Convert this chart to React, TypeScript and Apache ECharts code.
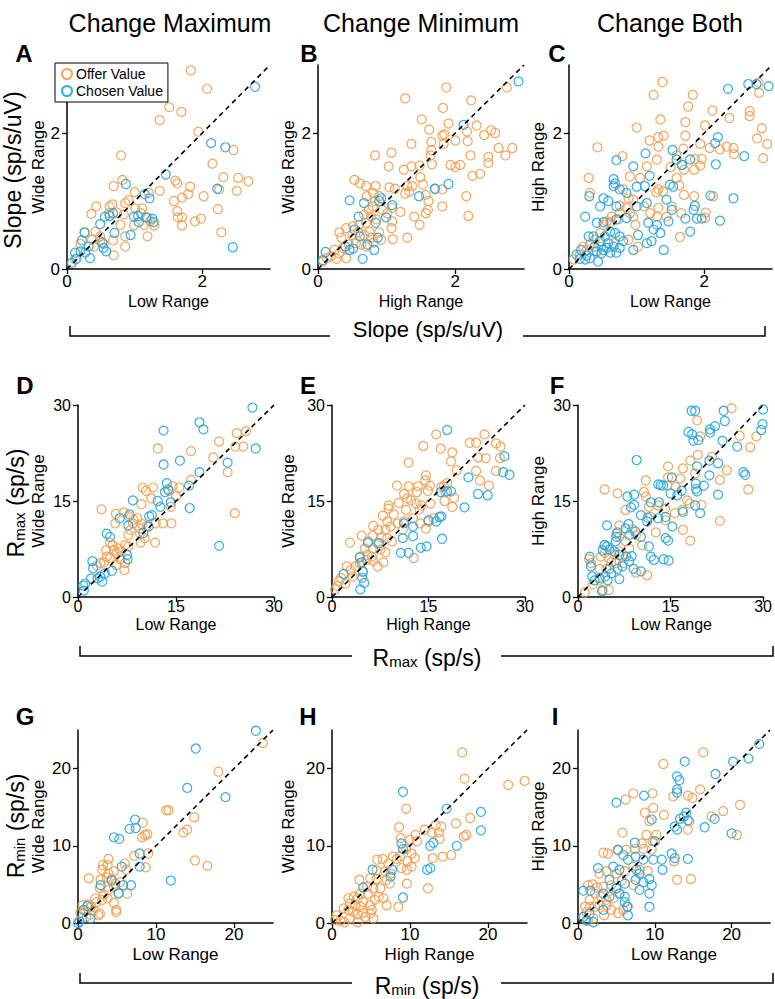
import React, { useEffect, useRef } from 'react';
import * as echarts from 'echarts';

const ORANGE = '#F39C4B';
const BLUE = '#1EA5E3';
const FONT = '"Liberation Sans", Arial, Helvetica, sans-serif';

const titles = ['Change Maximum', 'Change Minimum', 'Change Both'];
const letters = ['A', 'B', 'C', 'D', 'E', 'F', 'G', 'H', 'I'];

// ---- Slope (sp/s/uV) ----
const aOffer = [[1.83,2.92],[2.07,2.65],[1.51,2.38],[1.69,2.31],[1.37,2.19],[1.94,2.02],[2.46,1.75],[0.80,1.67],[2.15,1.55],[1.60,1.30],[1.63,1.26],[0.82,1.31],[2.31,1.35],[2.53,1.34],[2.68,1.29],[1.82,1.21],[0.69,1.22],[1.00,1.13],[1.21,1.12],[1.37,1.15],[2.51,1.15],[2.25,1.17],[2.02,1.07],[1.79,1.10],[1.70,1.05],[1.58,1.00],[0.91,1.01],[0.43,0.92],[0.63,0.92],[0.67,0.95],[0.86,0.97],[1.01,0.89],[1.11,0.89],[2.23,0.88],[0.36,0.81],[0.62,0.82],[0.74,0.83],[0.84,0.80],[1.09,0.82],[1.63,0.85],[1.64,0.76],[1.70,0.76],[1.98,0.74],[1.89,0.70],[1.70,0.64],[1.19,0.75],[0.99,0.64],[1.14,0.65],[1.29,0.64],[1.23,0.70],[0.42,0.55],[0.79,0.65],[0.26,0.53],[0.49,0.48],[0.86,0.48],[1.19,0.48],[2.28,0.54],[0.20,0.37],[0.40,0.33],[0.54,0.37],[0.68,0.42],[0.86,0.33],[0.69,0.20],[0.12,0.14],[0.49,0.41],[0.37,0.43]];
const aChosen = [[2.78,2.68],[2.13,1.85],[2.34,1.79],[1.46,1.39],[0.87,1.25],[2.22,1.18],[1.15,1.10],[1.22,1.04],[0.68,0.82],[0.63,0.78],[0.56,0.77],[0.99,0.77],[1.05,0.78],[1.17,0.76],[1.26,0.74],[1.06,0.69],[1.28,0.69],[0.49,0.66],[0.70,0.53],[0.26,0.54],[0.94,0.50],[0.22,0.42],[0.52,0.39],[0.32,0.33],[0.54,0.31],[0.58,0.26],[0.20,0.26],[0.12,0.24],[0.34,0.16],[0.14,0.15],[0.07,0.09],[2.45,0.32],[0.27,0.24]];

const bOffer = [[1.87,2.67],[1.27,2.51],[2.23,2.48],[2.75,2.67],[1.82,2.37],[1.51,2.20],[2.31,2.11],[1.90,2.14],[1.62,2.05],[2.17,2.02],[2.52,2.04],[2.58,2.00],[1.81,1.96],[1.84,1.98],[2.00,1.89],[2.18,1.88],[2.42,1.97],[1.65,1.87],[1.36,1.84],[1.83,1.84],[2.63,1.78],[2.83,1.78],[1.65,1.75],[2.22,1.67],[2.48,1.65],[2.73,1.67],[1.07,1.71],[0.83,1.67],[1.64,1.67],[2.48,1.56],[1.93,1.53],[2.07,1.53],[2.00,1.50],[1.03,1.51],[1.36,1.51],[1.48,1.52],[1.66,1.54],[1.25,1.46],[2.25,1.37],[2.36,1.40],[1.49,1.35],[0.53,1.31],[0.61,1.26],[0.70,1.22],[0.84,1.22],[1.04,1.20],[1.12,1.18],[1.30,1.22],[1.37,1.22],[1.53,1.24],[1.71,1.18],[1.81,1.17],[1.27,1.11],[1.33,1.14],[2.16,1.07],[1.57,1.09],[0.80,1.12],[0.89,1.07],[0.71,1.07],[1.61,1.00],[1.81,0.92],[1.60,0.87],[1.57,0.82],[1.40,0.77],[2.19,0.78],[1.48,0.65],[1.20,0.84],[1.08,0.90],[0.94,0.87],[1.01,0.82],[1.08,0.70],[1.07,0.60],[1.09,0.44],[1.30,0.46],[0.80,0.92],[0.74,0.87],[0.67,0.80],[0.77,0.77],[0.85,0.73],[0.70,0.68],[0.60,0.65],[0.51,0.63],[0.41,0.60],[0.31,0.54],[0.34,0.46],[0.50,0.50],[0.59,0.54],[0.67,0.50],[0.75,0.55],[0.89,0.54],[0.92,0.43],[0.81,0.39],[0.77,0.46],[0.55,0.38],[0.45,0.36],[0.24,0.28],[0.31,0.23],[0.19,0.19],[0.07,0.11],[0.13,0.16],[0.36,0.31],[0.70,0.33],[0.63,0.36],[0.41,0.16],[0.27,0.15],[0.83,1.00]];
const bChosen = [[2.92,2.76],[2.12,2.12],[1.90,1.25],[1.70,1.18],[1.47,1.07],[0.46,1.01],[0.67,0.97],[0.92,1.04],[0.89,1.00],[1.08,0.94],[0.59,0.77],[0.99,0.76],[0.84,0.68],[0.53,0.58],[0.61,0.48],[0.87,0.46],[0.51,0.30],[0.72,0.36],[0.82,0.28],[0.40,0.33],[0.65,0.15],[0.11,0.25],[0.07,0.13],[0.46,0.28]];

const cOffer = [[1.38,2.75],[1.25,2.56],[1.83,2.56],[2.80,2.74],[2.81,2.59],[1.76,2.39],[2.12,2.33],[2.67,2.32],[2.67,2.25],[1.35,2.20],[1.72,2.16],[2.37,2.22],[1.00,2.08],[2.01,2.11],[2.85,2.07],[1.32,1.94],[1.40,1.96],[1.72,1.96],[1.19,1.89],[1.94,1.84],[2.78,1.92],[2.93,1.84],[0.42,1.79],[1.32,1.80],[1.69,1.77],[2.08,1.78],[2.23,1.76],[2.33,1.80],[2.43,1.78],[2.44,1.69],[1.59,1.67],[0.79,1.66],[2.87,1.63],[1.86,1.62],[1.96,1.62],[1.30,1.61],[1.67,1.53],[1.94,1.52],[1.15,1.51],[1.50,1.50],[1.70,1.46],[1.85,1.46],[1.59,1.34],[0.90,1.36],[1.05,1.34],[0.29,1.34],[1.63,1.23],[1.32,1.17],[1.39,1.14],[1.29,1.13],[1.70,1.09],[1.85,1.07],[2.13,1.07],[0.31,1.12],[0.80,1.17],[0.88,1.04],[0.95,1.02],[1.52,0.92],[1.32,0.90],[1.11,0.92],[1.20,0.82],[1.30,0.77],[1.66,0.82],[2.02,0.83],[2.01,0.75],[0.75,0.93],[0.85,0.90],[0.90,0.82],[0.95,0.77],[0.75,0.82],[0.63,0.77],[0.56,0.70],[0.51,0.65],[0.61,0.68],[0.98,0.65],[1.02,0.33],[0.88,0.43],[1.64,0.47],[0.46,0.53],[0.38,0.43],[0.31,0.36],[0.26,0.28],[0.21,0.33],[0.36,0.26],[0.07,0.14],[0.16,0.21],[0.48,0.33],[0.66,0.38],[0.73,0.73],[1.44,0.77]];
const cChosen = [[2.35,2.65],[2.65,2.72],[2.95,2.69],[2.77,2.72],[2.20,1.94],[2.16,1.85],[1.53,1.75],[1.13,1.70],[0.70,1.60],[2.59,1.66],[1.79,1.61],[1.67,1.53],[0.95,1.51],[2.17,1.54],[1.59,1.61],[1.19,1.37],[0.66,1.32],[0.68,1.26],[0.66,1.22],[1.12,1.22],[1.49,1.24],[1.54,1.21],[1.00,1.21],[0.75,1.17],[0.85,1.12],[1.15,0.97],[1.44,1.02],[2.09,1.08],[2.43,1.04],[0.30,1.07],[0.51,1.04],[0.58,1.00],[0.46,0.92],[0.70,0.92],[1.00,0.92],[1.52,0.87],[1.86,0.93],[1.84,0.87],[1.72,0.74],[1.89,0.74],[1.96,0.74],[2.23,0.71],[0.24,0.77],[0.41,0.68],[0.51,0.69],[0.70,0.73],[0.85,0.75],[1.17,0.68],[1.30,0.65],[1.47,0.70],[1.25,0.58],[1.35,0.53],[1.02,0.50],[1.79,0.55],[1.15,0.38],[1.22,0.41],[1.40,0.28],[0.61,0.55],[0.68,0.53],[0.53,0.48],[0.46,0.41],[0.36,0.48],[0.29,0.48],[0.75,0.48],[0.58,0.38],[0.66,0.33],[0.75,0.31],[0.51,0.28],[0.41,0.26],[0.61,0.24],[0.70,0.24],[0.48,0.23],[0.26,0.20],[0.18,0.28],[0.16,0.15],[0.24,0.14],[0.43,0.11],[0.31,0.16],[0.95,0.28],[0.11,0.21],[0.38,0.33],[0.56,0.31],[0.80,0.41]];

// ---- Rmax (sp/s) ----
const dOffer = [[25.7,25.9],[24.3,25.6],[21.6,24.3],[24.1,23.5],[25.3,23.5],[12.2,23.2],[17.3,22.8],[20.7,21.8],[22.9,19.5],[17.3,18.3],[24.0,13.1],[9.9,17.1],[10.4,16.6],[11.5,17.1],[14.5,17.3],[15.5,17.1],[13.9,16.6],[15.0,15.7],[11.2,15.4],[9.7,14.5],[14.2,14.1],[3.6,13.7],[5.8,13.0],[7.0,13.2],[7.8,12.6],[8.5,12.1],[9.1,12.3],[8.4,11.5],[13.0,11.5],[11.9,11.5],[14.3,11.5],[5.7,11.5],[9.8,11.4],[10.5,11.1],[9.5,10.7],[8.0,10.5],[7.7,9.7],[9.5,9.9],[10.2,9.2],[9.6,8.5],[11.8,8.5],[4.9,8.5],[5.3,8.1],[4.3,7.3],[6.2,7.6],[5.5,7.3],[6.6,7.1],[5.9,6.8],[7.7,7.9],[7.2,8.1],[4.4,6.3],[4.9,6.1],[6.5,5.9],[3.4,5.3],[4.0,5.4],[2.9,4.9],[5.9,5.0],[7.1,4.2],[7.2,5.3]];
const dChosen = [[26.7,29.6],[18.6,27.3],[19.2,26.2],[13.1,26.0],[27.2,23.2],[15.6,21.3],[13.1,20.7],[22.9,21.0],[18.6,19.5],[17.0,17.4],[13.6,17.8],[13.3,16.4],[13.8,16.8],[17.1,13.9],[12.2,15.0],[12.6,14.1],[14.2,14.8],[8.4,15.1],[7.9,12.9],[10.9,12.6],[11.3,12.8],[6.4,12.3],[7.7,11.2],[10.8,11.0],[10.0,10.0],[4.4,9.9],[4.9,9.4],[21.6,8.0],[7.5,6.6],[7.6,5.9],[5.2,4.1],[2.2,5.6],[2.3,4.5],[2.0,2.9],[3.0,2.9],[3.7,2.4],[3.4,3.2],[1.1,2.1],[0.8,1.8],[0.9,1.0],[4.1,3.7]];

const eOffer = [[16.2,25.4],[23.7,25.4],[16.9,23.2],[14.2,23.6],[21.4,24.1],[22.4,24.1],[25.5,24.0],[26.2,23.5],[18.7,22.6],[22.7,21.8],[23.9,21.7],[26.1,21.7],[18.5,21.2],[11.9,21.0],[19.4,19.8],[22.4,19.7],[25.5,19.7],[14.6,19.0],[17.9,17.8],[23.0,18.2],[24.4,17.4],[10.1,17.4],[11.9,17.3],[13.4,17.3],[15.2,17.4],[14.5,18.2],[17.0,17.2],[17.4,17.3],[13.2,16.4],[14.9,16.6],[11.2,16.1],[17.6,16.4],[19.0,15.5],[18.7,14.1],[17.5,15.0],[11.7,15.4],[12.3,15.1],[10.4,14.7],[8.8,14.3],[8.8,13.8],[13.1,14.6],[13.9,14.3],[15.3,14.6],[13.6,13.7],[11.5,13.6],[7.9,12.7],[9.6,12.9],[8.6,11.8],[10.2,11.5],[11.2,11.8],[12.6,12.3],[13.7,11.5],[15.0,11.8],[15.8,12.3],[14.6,10.7],[6.4,11.1],[7.2,10.5],[8.3,10.5],[9.1,11.0],[4.6,9.6],[6.3,9.6],[7.7,9.3],[8.6,9.2],[9.3,8.7],[5.6,8.7],[7.1,8.4],[2.8,8.5],[5.1,7.6],[6.4,7.6],[7.5,7.4],[8.3,7.0],[5.5,6.6],[6.2,6.3],[4.4,6.3],[5.4,5.8],[6.4,5.6],[8.0,5.4],[7.1,4.8],[4.3,5.3],[3.7,4.8],[2.3,4.8],[2.9,4.2],[12.7,6.1],[1.1,2.5],[1.4,3.0],[2.1,2.1],[0.5,1.2],[0.8,1.7],[3.2,3.2],[4.8,3.9],[11.0,10.5]];
const eChosen = [[17.9,26.1],[26.8,22.0],[26.6,19.5],[27.6,19.1],[21.2,18.7],[22.7,16.1],[24.2,15.9],[20.6,14.0],[17.9,16.5],[18.5,16.5],[16.9,16.4],[17.0,12.6],[16.7,12.5],[15.0,12.0],[16.2,11.8],[17.1,9.1],[12.6,9.5],[11.0,9.2],[12.6,11.0],[13.8,7.7],[14.7,7.9],[10.7,6.9],[11.9,6.9],[5.6,8.5],[7.3,8.4],[4.3,6.2],[4.6,5.4],[4.8,4.0],[4.7,3.0],[5.0,2.2],[1.8,3.6],[4.4,1.2],[11.2,11.5]];

const fOffer = [[24.9,29.5],[19.3,27.6],[19.8,25.1],[26.2,25.2],[28.9,25.1],[27.9,23.4],[19.4,22.2],[21.7,21.9],[18.2,21.3],[14.6,20.4],[17.0,20.1],[24.1,19.8],[19.0,19.3],[14.6,18.7],[16.6,18.5],[11.0,18.2],[23.0,18.3],[4.3,16.8],[6.4,16.2],[10.7,16.4],[27.6,16.8],[11.0,15.7],[14.5,17.4],[15.8,17.2],[17.7,15.1],[18.1,14.6],[20.0,14.4],[7.7,13.6],[11.5,14.1],[13.0,14.3],[14.1,13.8],[11.8,12.5],[14.2,12.0],[15.7,13.1],[16.9,13.6],[23.0,11.9],[6.7,11.2],[8.8,10.6],[9.4,9.7],[12.6,10.1],[17.0,10.5],[18.2,8.8],[10.4,8.1],[6.7,9.4],[6.2,9.9],[7.7,8.7],[8.3,7.6],[4.3,6.9],[3.7,6.3],[5.0,6.1],[5.9,6.6],[6.7,7.1],[7.2,6.3],[5.4,5.4],[6.2,5.3],[7.3,5.3],[1.8,5.9],[2.1,5.3],[3.5,4.4],[4.6,4.4],[9.4,3.8],[11.2,3.4],[3.5,2.7],[2.4,2.0],[4.0,1.1],[5.0,1.1],[1.1,0.7],[4.3,8.1]];
const fChosen = [[18.4,29.1],[19.0,29.1],[23.6,29.1],[30.0,29.3],[23.8,27.5],[29.9,27.0],[29.7,26.1],[22.2,26.7],[21.4,26.2],[21.4,25.7],[17.9,25.8],[18.5,25.4],[18.7,24.4],[19.5,24.5],[23.4,24.4],[25.8,23.5],[9.5,21.4],[22.7,20.9],[21.3,21.3],[19.3,20.4],[26.8,19.5],[27.1,19.1],[21.3,19.0],[15.2,18.7],[13.0,17.6],[13.4,17.5],[13.8,17.4],[19.1,17.7],[20.4,17.4],[19.1,16.9],[19.3,16.5],[22.7,16.0],[8.0,15.7],[9.1,16.0],[15.0,16.2],[16.8,16.6],[16.1,15.9],[11.8,14.8],[9.1,14.4],[13.1,14.8],[19.0,14.3],[19.8,13.1],[8.6,14.0],[10.2,12.8],[11.3,12.4],[13.0,12.3],[14.2,12.5],[17.0,13.3],[15.3,11.0],[8.2,11.4],[4.7,11.2],[8.3,9.7],[7.7,10.7],[9.3,10.2],[10.2,9.4],[6.4,10.1],[6.2,9.4],[6.1,8.7],[14.2,9.2],[14.6,8.8],[11.5,7.9],[11.8,6.3],[12.3,5.8],[13.9,5.9],[14.7,5.7],[4.3,8.1],[4.7,7.9],[5.1,7.4],[4.0,7.3],[5.9,7.1],[6.7,6.6],[7.8,6.3],[8.3,5.6],[7.2,4.8],[9.0,4.4],[10.2,4.0],[6.4,4.4],[5.1,4.4],[5.4,3.7],[4.4,3.2],[3.5,3.0],[4.8,2.6],[6.7,2.8],[2.3,3.2],[1.9,6.3],[2.1,4.8],[2.7,2.6],[3.9,0.9],[8.7,6.4],[11.2,11.8]];

// ---- Rmin (sp/s) ----
const gOffer = [[23.7,23.3],[18.0,19.6],[11.3,14.6],[11.6,14.6],[14.9,13.7],[13.5,11.7],[14.0,12.1],[8.3,13.0],[8.6,11.4],[8.2,11.1],[8.9,11.5],[9.0,9.0],[7.2,8.7],[8.7,7.2],[15.0,8.1],[16.6,7.4],[3.9,8.3],[3.2,7.5],[3.8,7.5],[3.1,6.9],[4.6,6.7],[6.0,7.7],[6.2,6.9],[1.4,5.8],[2.9,5.6],[3.7,5.9],[4.3,5.7],[4.8,5.1],[5.4,5.3],[6.3,3.8],[5.2,3.9],[2.8,4.5],[3.9,4.3],[3.3,3.7],[2.2,3.2],[2.4,2.7],[3.1,3.0],[3.8,3.2],[4.6,2.6],[4.9,1.7],[4.9,1.4],[1.3,2.4],[1.7,2.1],[0.9,1.7],[0.6,2.3],[2.0,1.6],[2.8,1.2],[2.6,1.0],[1.6,1.1],[0.3,1.3],[1.1,0.8],[4.6,4.7],[3.9,6.4]];
const gChosen = [[22.8,24.9],[15.1,22.6],[14.0,17.5],[18.9,16.3],[7.3,13.4],[6.6,12.2],[7.4,12.3],[4.6,11.1],[5.3,10.9],[7.9,9.0],[7.9,7.3],[5.6,7.3],[11.9,5.5],[2.9,4.9],[4.3,5.5],[5.8,4.9],[6.8,4.9],[5.2,3.8],[1.2,2.2],[1.6,0.6],[0.2,0.2],[0.0,0.0],[0.7,1.7]];

const hOffer = [[16.7,22.1],[17.0,18.7],[22.6,17.9],[24.7,18.4],[9.5,14.8],[17.7,13.6],[17.2,11.4],[16.9,11.2],[15.9,12.9],[14.0,12.5],[13.3,12.7],[12.8,11.7],[13.7,11.7],[13.8,10.9],[11.9,12.1],[10.7,11.4],[10.9,10.6],[10.0,10.8],[8.6,12.4],[8.8,11.0],[15.3,8.8],[14.2,8.6],[12.9,8.4],[12.3,4.5],[9.5,9.6],[10.2,9.0],[10.6,8.4],[9.7,8.0],[10.2,7.3],[8.7,8.6],[7.8,8.6],[8.3,8.3],[7.2,7.7],[5.8,8.2],[6.5,8.3],[8.9,7.1],[9.6,6.9],[9.6,5.1],[6.8,6.7],[5.7,6.8],[7.5,6.4],[7.0,5.6],[7.4,5.1],[8.5,2.1],[7.0,2.3],[3.5,5.6],[4.9,5.8],[5.7,5.7],[5.3,4.5],[6.2,4.5],[6.0,3.4],[6.6,3.2],[5.5,3.0],[4.6,3.8],[3.6,3.8],[2.8,3.4],[3.3,3.2],[2.1,3.2],[4.0,2.7],[2.3,2.5],[3.0,2.3],[3.7,2.1],[4.9,2.3],[1.5,1.9],[2.1,1.7],[2.7,1.4],[3.3,1.1],[4.0,1.3],[4.9,1.2],[5.3,0.6],[4.3,0.8],[0.6,1.0],[1.1,0.3],[1.6,0.1],[2.3,0.6],[0.4,0.4],[3.3,0.1],[5.1,1.7],[4.5,4.7]];
const hChosen = [[9.1,17.0],[14.7,14.8],[19.1,14.4],[19.1,12.0],[13.0,10.4],[12.6,10.0],[16.0,10.0],[8.9,10.3],[9.1,9.6],[12.2,6.9],[12.6,7.1],[7.7,6.9],[7.5,6.0],[9.1,3.3],[4.0,4.6],[5.2,6.9]];

const iOffer = [[16.3,22.1],[11.1,20.6],[7.2,16.8],[9.7,16.8],[6.2,16.0],[14.3,16.5],[14.9,16.2],[12.4,16.4],[15.9,17.3],[18.9,14.5],[21.1,15.3],[9.8,14.9],[8.7,14.3],[11.2,14.0],[17.4,13.8],[9.3,13.2],[14.3,12.1],[14.5,13.2],[5.8,11.7],[8.9,11.4],[10.2,11.4],[9.7,10.6],[8.3,10.3],[20.7,11.4],[3.3,9.1],[3.9,9.0],[5.2,9.4],[6.3,9.5],[7.4,9.6],[8.5,9.6],[9.6,9.5],[12.5,8.0],[12.9,5.6],[14.7,5.7],[5.2,1.3],[2.8,6.4],[3.7,6.7],[5.0,6.4],[6.1,6.7],[7.2,7.3],[8.0,6.9],[9.1,6.7],[1.3,4.9],[1.9,5.0],[2.5,4.6],[3.3,4.7],[4.3,4.9],[5.7,5.5],[7.2,4.9],[2.2,3.8],[3.0,3.4],[3.7,3.0],[4.6,3.2],[5.4,3.8],[1.5,3.0],[0.9,2.1],[1.5,2.1],[2.2,2.1],[2.8,2.3],[3.7,2.3],[4.3,1.7],[1.1,1.4],[0.7,0.8],[1.3,0.3],[2.0,0.6],[3.4,1.0],[5.9,1.7],[6.5,2.1],[5.0,4.5]];
const iChosen = [[23.6,23.2],[20.2,20.9],[22.2,21.3],[13.9,20.9],[17.9,19.3],[12.9,19.0],[13.2,18.5],[12.9,17.3],[12.9,16.9],[8.6,16.5],[5.0,15.6],[14.1,14.3],[13.8,13.8],[14.3,13.3],[13.3,13.5],[9.6,13.4],[12.6,12.5],[12.9,12.1],[16.5,12.4],[17.8,13.5],[20.0,11.6],[7.4,10.4],[10.0,10.6],[12.2,9.0],[12.6,8.4],[14.3,8.3],[10.9,8.2],[9.8,8.2],[5.2,9.5],[5.9,8.8],[6.5,8.2],[7.5,8.6],[8.5,8.2],[2.6,7.1],[4.6,7.3],[5.4,6.9],[11.0,6.9],[7.5,5.6],[8.5,5.3],[9.3,5.7],[9.6,4.9],[8.0,4.3],[6.1,5.1],[5.0,4.5],[5.4,3.8],[6.1,3.4],[6.1,2.7],[6.4,2.1],[6.5,1.0],[9.3,3.8],[9.3,2.1],[0.7,4.2],[1.6,4.2],[4.1,5.6],[3.3,3.8],[0.7,0.8],[1.1,0.3],[2.0,0.1],[1.5,1.2],[8.0,6.4],[7.6,6.9],[4.1,3.4],[3.3,1.7]];

const slopeTicks = [0, 2];
const rmaxTicks = [0, 15, 30];
const rminTicks = [0, 10, 20];
const xNames = ['Low Range', 'High Range', 'Low Range'];
const yNames = ['Wide Range', 'Wide Range', 'High Range'];

type Panel = {
  left: number; top: number; width: number; height: number; max: number;
  ticks: number[]; offer: number[][]; chosen: number[][]; row: number; col: number;
};

const rowMeta = [
  { max: 3, ticks: slopeTicks, top: 65, height: 204, xLabelMargin: 4, tickFont: 17, xNameY: 301, nameFont: 16 },
  { max: 30, ticks: rmaxTicks, top: 405, height: 192, xLabelMargin: 1, tickFont: 16, xNameY: 624, nameFont: 16 },
  { max: 25, ticks: rminTicks, top: 730, height: 193, xLabelMargin: 3, tickFont: 17, xNameY: 954, nameFont: 17 },
];
const colLayout = [
  [{ left: 67, width: 203 }, { left: 318, width: 206 }, { left: 569, width: 203 }],
  [{ left: 78, width: 196 }, { left: 332, width: 193 }, { left: 578, width: 187 }],
  [{ left: 78, width: 195 }, { left: 332, width: 195 }, { left: 578, width: 192 }],
];
const dataSets = [
  [aOffer, aChosen], [bOffer, bChosen], [cOffer, cChosen],
  [dOffer, dChosen], [eOffer, eChosen], [fOffer, fChosen],
  [gOffer, gChosen], [hOffer, hChosen], [iOffer, iChosen],
];

const panels: Panel[] = dataSets.map((ds, idx) => {
  const row = Math.floor(idx / 3);
  const col = idx % 3;
  const rm = rowMeta[row];
  const cl = colLayout[row][col];
  return {
    left: cl.left, width: cl.width, top: rm.top, height: rm.height, max: rm.max,
    ticks: rm.ticks, offer: ds[0], chosen: ds[1], row, col,
  };
});

const yNameX = [38, 288, 538];
const letterPos = [[24, 53], [309, 53], [557, 53], [25, 385], [308, 385], [557, 385], [25, 716], [308, 716], [555, 716]];

function txt(text: string, x: number, y: number, size: number, opts: any = {}) {
  return {
    type: 'text', x, y, rotation: opts.rot || 0, silent: true, z: 100,
    style: {
      text, fontSize: size, fontFamily: FONT, fontWeight: opts.bold ? 'bold' : 'normal',
      fill: '#000', align: opts.align || 'center', verticalAlign: 'middle',
      textAlign: opts.align || 'center', textVerticalAlign: 'middle',
      rich: opts.rich,
    },
  };
}

function bracket(y: number, x0: number, gap0: number, gap1: number, x1: number) {
  const style = { stroke: '#000', lineWidth: 1.5, fill: 'none' };
  return [
    { type: 'polyline', silent: true, z: 100, shape: { points: [[x0, y - 10], [x0, y], [gap0, y]] }, style },
    { type: 'polyline', silent: true, z: 100, shape: { points: [[gap1, y], [x1, y], [x1, y - 10]] }, style },
  ];
}

export default function App() {
  const ref = useRef<HTMLDivElement>(null);
  useEffect(() => {
    if (!ref.current) return;
    const chart = echarts.init(ref.current, undefined, { renderer: 'svg' });

    const grid: any[] = [];
    const xAxis: any[] = [];
    const yAxis: any[] = [];
    const series: any[] = [];
    const graphic: any[] = [];

    panels.forEach((p, i) => {
      const rm = rowMeta[p.row];
      grid.push({ left: p.left, top: p.top, width: p.width, height: p.height, containLabel: false });
      const axisCommon = {
        type: 'value', min: 0, max: p.max, gridIndex: i,
        splitLine: { show: false },
        axisLine: { show: true, onZero: false, lineStyle: { color: '#000', width: 1.5 } },
        axisTick: { show: true, inside: false, length: 5, customValues: p.ticks, lineStyle: { color: '#000', width: 1.3 } },
      };
      xAxis.push({
        ...axisCommon,
        axisLabel: { customValues: p.ticks, fontSize: rm.tickFont, color: '#000', fontFamily: FONT, margin: rm.xLabelMargin },
      });
      yAxis.push({
        ...axisCommon,
        axisLabel: { customValues: p.ticks, fontSize: rm.tickFont, color: '#000', fontFamily: FONT, margin: 7 },
      });
      series.push({
        name: 'Offer Value', type: 'scatter', xAxisIndex: i, yAxisIndex: i, data: p.offer,
        symbol: 'circle', symbolSize: 9, z: 2,
        itemStyle: { color: 'rgba(0,0,0,0)', borderColor: ORANGE, borderWidth: 1.2, opacity: 0.9 },
      });
      series.push({
        name: 'Chosen Value', type: 'scatter', xAxisIndex: i, yAxisIndex: i, data: p.chosen,
        symbol: 'circle', symbolSize: 9, z: 2,
        itemStyle: { color: 'rgba(0,0,0,0)', borderColor: BLUE, borderWidth: 1.2, opacity: 0.9 },
      });
      series.push({
        name: 'unity', type: 'line', xAxisIndex: i, yAxisIndex: i, data: [[0, 0], [p.max, p.max]],
        showSymbol: false, symbol: 'none', silent: true, z: 3,
        lineStyle: { color: '#000', width: 1.6, type: [5, 4] },
      });
      graphic.push(txt(xNames[p.col], p.left + p.width / 2, rm.xNameY, rm.nameFont));
      graphic.push(txt(yNames[p.col], yNameX[p.col], p.top + p.height / 2, 17, { rot: Math.PI / 2 }));
      graphic.push(txt(letters[i], letterPos[i][0], letterPos[i][1], 24, { bold: true }));
    });

    const colCenters = [170, 421, 670];
    titles.forEach((t, k) => graphic.push(txt(t, colCenters[k], 23, 25)));

    graphic.push(txt('Slope (sp/s/uV)', 13, 170, 23, { rot: Math.PI / 2 }));
    const richR = {
      r: { fontSize: 23, fontFamily: FONT, lineHeight: 26, verticalAlign: 'bottom' },
      s: { fontSize: 15, fontFamily: FONT, lineHeight: 26, verticalAlign: 'bottom' },
    };
    graphic.push(txt('{r|R}{s|max}{r| (sp/s)}', 14, 503, 23, { rot: Math.PI / 2, rich: richR }));
    graphic.push(txt('{r|R}{s|min}{r| (sp/s)}', 14, 826, 23, { rot: Math.PI / 2, rich: richR }));

    graphic.push(...bracket(336, 70, 330, 523, 765));
    graphic.push(txt('Slope (sp/s/uV)', 428, 329, 22));
    graphic.push(...bracket(656, 80, 352, 501, 773));
    graphic.push(txt('{r|R}{s|max}{r| (sp/s)}', 427, 656, 23, { rich: richR }));
    graphic.push(...bracket(983, 80, 352, 501, 773));
    graphic.push(txt('{r|R}{s|min}{r| (sp/s)}', 427, 984, 23, { rich: richR }));

    chart.setOption({
      animation: false,
      backgroundColor: '#fff',
      textStyle: { fontFamily: FONT },
      grid, xAxis, yAxis, series, graphic,
      legend: {
        data: ['Offer Value', 'Chosen Value'],
        left: 55, top: 63, orient: 'vertical',
        backgroundColor: '#fff', borderColor: '#000', borderWidth: 1,
        padding: [4, 5, 4, 6], itemGap: 3, itemWidth: 10, itemHeight: 10,
        icon: 'circle', selectedMode: false,
        textStyle: { fontSize: 14, color: '#000', fontFamily: FONT, padding: [0, 0, 0, -1] },
        z: 10,
      },
    });
    return () => chart.dispose();
  }, []);
  return <div ref={ref} style={{ position: 'fixed', left: 0, top: 0, width: 775, height: 999, background: '#fff' }} />;
}
